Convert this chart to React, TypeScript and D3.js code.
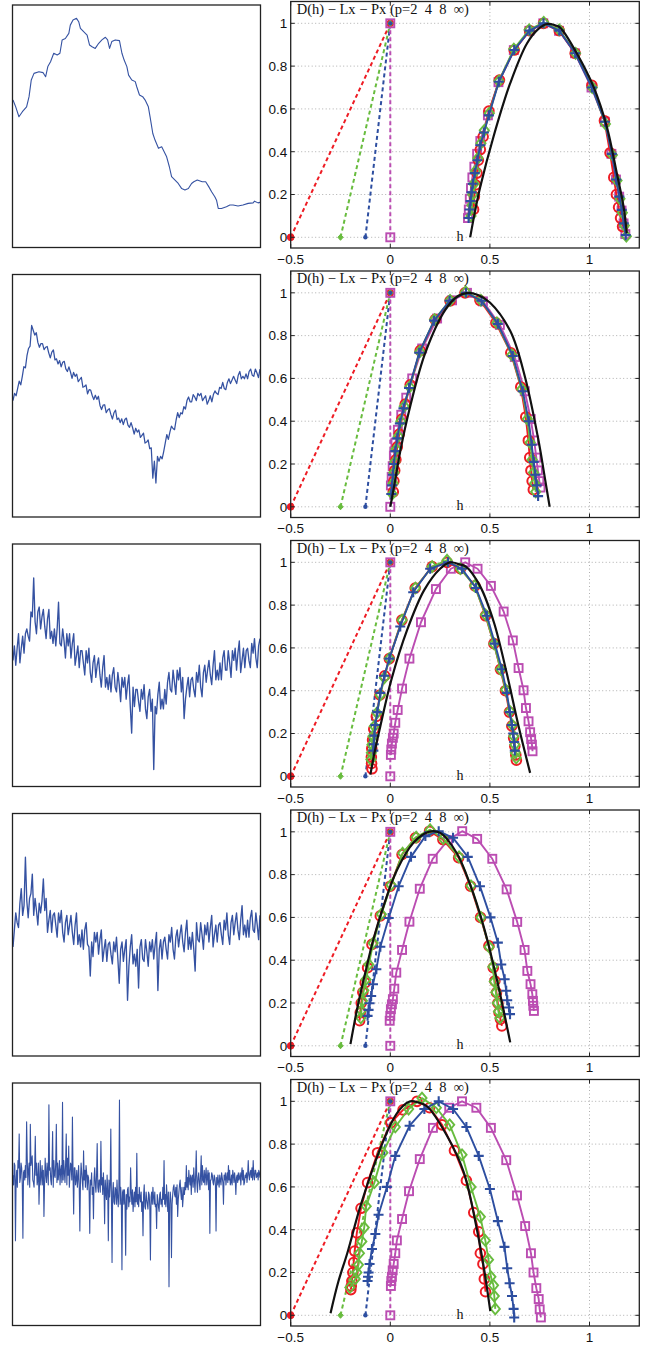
import React from "react";
import * as d3 from "d3";

// ---------------- DATA ----------------
const rowCount = 5;
const hTicks = [-0.5, 0, 0.5, 1];
const dTicks = [0, 0.2, 0.4, 0.6, 0.8, 1];
const titleText = "D(h) \u2212 Lx \u2212 Px (p=2  4  8  \u221e)";
const dashStartH = [-0.5, -0.25, -0.125, 0]; // p = 2, 4, 8, inf

// Row 1 signal (time 0..1000, level 0..100)
const sig1Time = [0, 11, 24, 38, 55, 65, 74, 85, 105, 122, 132, 141, 152, 165, 179, 190, 199, 212, 226, 232, 243, 257, 266, 273, 286, 300, 310, 320, 333, 347, 360, 374, 383, 391, 400, 414, 431, 441, 450, 461, 468, 481, 495, 501, 512, 525, 535, 548, 555, 566, 575, 589, 602, 612, 622, 633, 642, 656, 669, 683, 696, 710, 723, 732, 746, 766, 780, 793, 804, 817, 824, 831, 844, 864, 878, 891, 911, 931, 952, 972, 978, 992, 1000];
const sig1Value = [60.8, 58.0, 53.9, 56.0, 58.0, 62.2, 69.1, 71.8, 72.5, 72.1, 70.4, 74.6, 76.6, 80.1, 79.4, 80.1, 85.6, 86.2, 88.3, 91.7, 93.8, 94.5, 93.1, 90.4, 89.0, 87.6, 83.5, 82.8, 82.1, 84.2, 85.6, 86.7, 85.6, 82.1, 84.9, 85.6, 85.3, 80.1, 77.3, 74.6, 71.1, 69.1, 68.4, 66.3, 62.9, 62.2, 60.8, 58.0, 53.9, 47.0, 44.3, 40.9, 41.5, 39.5, 37.4, 33.3, 29.2, 27.8, 26.4, 24.3, 23.7, 24.3, 26.4, 27.1, 27.8, 27.1, 27.1, 25.0, 23.0, 20.9, 19.5, 16.1, 16.1, 16.8, 17.5, 17.5, 17.1, 17.5, 18.2, 18.4, 19.1, 18.4, 18.6];

const sig2Value = [
  48, 51, 50, 53, 56, 54.5, 58, 62, 61.5, 66.5,
  69.5, 70.5, 79, 77, 75, 76, 72, 70, 71.5, 71.5,
  69, 70, 70.3, 67.7, 65.6, 68, 68.9, 64.8, 65.2, 63.1,
  64.5, 61.9, 63.8, 64.2, 61.1, 60, 61.9, 59.8, 57.2, 59.6,
  58, 58.9, 55.8, 56.7, 57.6, 53.5, 53.8, 54.5, 50.8, 52.5,
  52.3, 50.1, 48.4, 50.2, 48.5, 49.8, 46, 44.3, 46.1, 46.3,
  43, 44.1, 44.7, 42.3, 40.4, 43, 44.1, 40.2, 40.8, 38.9,
  40.5, 38.1, 40.2, 40.8, 37.9, 37, 38.9, 36.8, 34.2, 36.6,
  35, 35.9, 32.8, 33.7, 34.6, 30.5, 30.9, 31.8, 28.2, 28.5,
  16, 23, 14, 25, 23, 25, 24, 27, 30.5, 34,
  32, 35, 37.5, 36.5, 36, 40, 43, 41, 43, 42.5,
  45.5, 44.5, 48, 49.5, 47.5, 47.5, 50.5, 49.5, 48, 51,
  50, 51, 48, 49, 50, 46.5, 48, 50, 47.5, 50.5,
  52, 51, 50.5, 53.5, 53, 55.5, 53, 52.5, 55.5, 57,
  55, 56.5, 58, 56.5, 55, 58.5, 60, 57, 58, 57,
  59, 57, 60, 61, 58.5, 58, 61, 59.5, 57.5, 61];

const sig3Value = [
  52, 58, 50, 57, 63, 51, 57, 62, 55, 63,
  65, 62, 60, 72, 70, 86, 68, 63, 72, 74,
  65, 70, 73, 66, 61, 69, 73, 61, 64, 59,
  65, 58, 65, 76, 59, 58, 65, 60, 53, 63,
  58, 63, 53, 59, 63, 50, 54, 58, 49, 56,
  56, 51, 46, 56, 51, 57, 47, 43, 51, 54,
  45, 50, 53, 46, 41, 49, 54, 41, 45, 40,
  46, 39, 46, 49, 41, 39, 47, 42, 35, 45,
  41, 45, 36, 42, 46, 33, 22, 41, 33, 40,
  40, 35, 31, 40, 36, 42, 32, 28, 37, 40,
  31, 36, 7, 33, 30, 38, 43, 32, 36, 32,
  40, 34, 43, 47, 40, 39, 48, 43, 38, 48,
  44, 49, 39, 45, 28, 36, 41, 45, 37, 44,
  45, 40, 37, 47, 43, 50, 41, 37, 47, 50,
  43, 48, 52, 46, 42, 50, 56, 44, 48, 44,
  51, 44, 53, 56, 48, 48, 56, 51, 45, 56,
  52, 57, 48, 55, 60, 47, 52, 57, 49, 56,
  57, 52, 49, 59, 55, 61, 53, 49, 58, 61];

const sig4Value = [
  45, 52, 59, 55, 53, 63, 69, 58, 62, 82,
  64, 57, 65, 67, 75, 58, 65, 60, 54, 63,
  59, 64, 73, 60, 65, 51, 56, 60, 51, 58,
  59, 54, 49, 59, 55, 60, 51, 47, 55, 58,
  50, 54, 58, 51, 46, 54, 59, 46, 50, 45,
  52, 44, 52, 55, 46, 45, 33, 47, 41, 51,
  47, 51, 42, 48, 52, 39, 44, 48, 39, 46,
  47, 42, 38, 47, 43, 49, 40, 30, 44, 47,
  39, 44, 48, 23, 37, 45, 50, 38, 42, 37,
  44, 28, 45, 48, 40, 39, 48, 43, 37, 47,
  43, 48, 40, 46, 51, 27, 44, 48, 40, 47,
  49, 44, 40, 50, 47, 53, 44, 40, 49, 52,
  45, 50, 54, 47, 43, 51, 56, 44, 49, 44,
  51, 44, 35, 55, 48, 47, 55, 50, 44, 54,
  50, 55, 47, 53, 58, 45, 50, 54, 47, 54,
  55, 50, 46, 56, 52, 59, 50, 46, 55, 58,
  50, 55, 59, 52, 48, 56, 62, 50, 54, 49,
  56, 49, 57, 60, 52, 51, 59, 54, 48, 58];

const sig5Value = [
  62, 58, 67, 66, 35, 60, 64, 57, 68, 65, 79, 59, 61, 67, 65, 58, 36, 63, 64, 60,
  66, 61, 84, 69, 58, 64, 67, 57, 83, 66, 68, 70, 60, 59, 57, 65, 78, 62, 67, 58,
  60, 67, 50, 60, 68, 58, 62, 66, 58, 64, 45, 59, 69, 62, 59, 67, 63, 58, 91, 64,
  65, 60, 58, 66, 80, 57, 68, 62, 61, 67, 83, 59, 67, 60, 63, 68, 58, 64, 66, 59,
  92, 60, 68, 63, 59, 67, 79, 58, 69, 62, 74, 57, 62, 67, 66, 60, 86, 62, 46, 65,
  65, 58, 60, 64, 57, 61, 66, 57, 39, 60, 67, 63, 59, 56, 72, 60, 64, 57, 66, 63,
  56, 62, 61, 55, 38, 60, 58, 63, 54, 57, 44, 61, 65, 58, 55, 62, 75, 57, 55, 60,
  60, 55, 76, 58, 61, 54, 63, 57, 42, 60, 55, 52, 62, 56, 35, 60, 53, 58, 81, 52,
  26, 55, 59, 51, 50, 57, 56, 50, 60, 53, 49, 56, 93, 50, 57, 52, 23, 55, 56, 50,
  56, 50, 29, 54, 48, 56, 57, 49, 53, 51, 65, 55, 50, 56, 47, 52, 55, 49, 57, 51,
  71, 50, 54, 49, 57, 53, 51, 55, 47, 51, 37, 54, 58, 49, 48, 55, 52, 50, 48, 55,
  54, 49, 27, 53, 55, 50, 57, 53, 50, 55, 49, 50, 40, 54, 52, 49, 47, 54, 55, 50,
  52, 49, 57, 52, 68, 50, 54, 49, 58, 53, 47, 55, 16, 50, 55, 52, 28, 50, 54, 57,
  58, 54, 53, 57, 50, 58, 45, 52, 55, 58, 60, 55, 52, 57, 49, 53, 57, 54, 59, 56,
  66, 57, 61, 56, 64, 60, 58, 62, 54, 61, 62, 57, 65, 60, 55, 62, 72, 59, 55, 61,
  63, 59, 56, 62, 70, 58, 66, 60, 59, 64, 58, 62, 65, 58, 61, 64, 56, 63, 38, 60,
  60, 63, 62, 59, 58, 62, 61, 58, 39, 61, 58, 62, 59, 57, 62, 60, 58, 63, 61, 59,
  50, 62, 60, 63, 58, 61, 63, 59, 66, 60, 64, 58, 59, 62, 58, 64, 62, 59, 63, 60,
  54, 61, 62, 59, 63, 60, 61, 63, 58, 62, 65, 60, 64, 58, 59, 62, 61, 63, 59, 62,
  68, 62, 60, 63, 64, 61, 65, 60, 68, 62, 60, 64, 64, 61, 62, 63, 60, 64, 63, 61];

// Spectra [h, D(h)] for p = 2 (red), 4 (green), 8 (blue), inf (magenta), and reference (black)
const spec1P2 = [[0.418,0.13],[0.422,0.19],[0.428,0.245],[0.435,0.30],[0.442,0.36],[0.452,0.41],[0.466,0.47],[0.495,0.59],[0.548,0.735],[0.622,0.875],[0.699,0.966],[0.769,1.0],[0.848,0.966],[0.928,0.86],[1.012,0.71],[1.075,0.545],[1.103,0.395],[1.122,0.28],[1.135,0.2],[1.146,0.14],[1.156,0.09],[1.166,0.05]];
const spec1P4 = [[0.405,0.10],[0.41,0.15],[0.414,0.2],[0.42,0.25],[0.428,0.31],[0.44,0.37],[0.455,0.44],[0.472,0.5],[0.497,0.58],[0.545,0.73],[0.62,0.88],[0.697,0.97],[0.77,1.005],[0.848,0.97],[0.93,0.86],[1.014,0.7],[1.08,0.53],[1.115,0.385],[1.138,0.265],[1.153,0.18],[1.165,0.115],[1.175,0.055],[1.185,0.005]];
const spec1P8 = [[0.393,0.09],[0.398,0.13],[0.403,0.17],[0.408,0.21],[0.414,0.25],[0.424,0.30],[0.437,0.36],[0.452,0.43],[0.47,0.49],[0.495,0.57],[0.545,0.727],[0.622,0.875],[0.699,0.966],[0.769,1.0],[0.848,0.966],[0.928,0.86],[1.012,0.70],[1.078,0.54],[1.112,0.39],[1.134,0.27],[1.15,0.19],[1.162,0.128],[1.172,0.065],[1.182,0.01]];
const spec1PInf = [[0.39,0.09],[0.394,0.13],[0.399,0.18],[0.405,0.23],[0.412,0.28],[0.422,0.33],[0.436,0.39],[0.452,0.45],[0.49,0.57],[0.543,0.725],[0.62,0.875],[0.698,0.965],[0.768,1.0],[0.847,0.965],[0.927,0.86],[1.01,0.7],[1.077,0.54],[1.11,0.39],[1.133,0.27],[1.149,0.19],[1.161,0.125],[1.171,0.065],[1.18,0.015]];
const spec1Ref = [[0.401,0],[0.425,0.12],[0.452,0.237],[0.518,0.47],[0.602,0.72],[0.686,0.906],[0.745,0.975],[0.786,0.997],[0.83,0.99],[0.853,0.98],[0.936,0.86],[1.02,0.704],[1.087,0.517],[1.137,0.3],[1.171,0.143],[1.187,0.019]];

const spec2P2 = [[0.015,0.07],[0.018,0.12],[0.022,0.17],[0.028,0.22],[0.035,0.28],[0.045,0.34],[0.058,0.41],[0.075,0.48],[0.1,0.57],[0.15,0.73],[0.225,0.875],[0.3,0.962],[0.375,1.0],[0.45,0.965],[0.53,0.86],[0.605,0.72],[0.655,0.56],[0.68,0.42],[0.693,0.31],[0.7,0.23],[0.706,0.17],[0.712,0.12],[0.718,0.08]];
const spec2P4 = [[0.01,0.06],[0.014,0.11],[0.018,0.16],[0.023,0.21],[0.03,0.27],[0.04,0.33],[0.053,0.4],[0.07,0.47],[0.097,0.56],[0.148,0.725],[0.222,0.875],[0.3,0.965],[0.378,1.005],[0.455,0.965],[0.535,0.86],[0.61,0.71],[0.66,0.55],[0.688,0.41],[0.702,0.3],[0.712,0.22],[0.719,0.16],[0.725,0.11],[0.73,0.07]];
const spec2P8 = [[0.005,0.06],[0.009,0.1],[0.013,0.15],[0.018,0.2],[0.025,0.26],[0.035,0.32],[0.048,0.39],[0.066,0.46],[0.094,0.555],[0.145,0.72],[0.22,0.87],[0.298,0.963],[0.38,1.0],[0.458,0.963],[0.54,0.855],[0.615,0.705],[0.665,0.54],[0.695,0.4],[0.71,0.29],[0.72,0.21],[0.728,0.15],[0.735,0.1],[0.742,0.05]];
const spec2PInf = [[0.003,0.1],[0.007,0.14],[0.012,0.19],[0.018,0.24],[0.026,0.3],[0.038,0.36],[0.055,0.43],[0.08,0.51],[0.11,0.6],[0.16,0.74],[0.235,0.88],[0.31,0.965],[0.385,1.0],[0.465,0.96],[0.55,0.85],[0.625,0.7],[0.675,0.54],[0.705,0.41],[0.722,0.31],[0.733,0.23],[0.741,0.17],[0.748,0.12],[0.754,0.09]];
const spec2Ref = [[0,0],[0.02,0.1],[0.05,0.26],[0.1,0.47],[0.176,0.72],[0.276,0.92],[0.34,0.985],[0.39,1.0],[0.44,0.99],[0.5,0.955],[0.603,0.82],[0.678,0.6],[0.744,0.31],[0.775,0.14],[0.8,0]];

const spec3P2 = [[-0.092,0.035],[-0.094,0.06],[-0.095,0.09],[-0.093,0.13],[-0.089,0.17],[-0.083,0.22],[-0.07,0.28],[-0.052,0.38],[-0.028,0.47],[-0.005,0.55],[0.058,0.73],[0.125,0.88],[0.21,0.98],[0.285,1.0],[0.352,0.97],[0.425,0.89],[0.478,0.75],[0.52,0.62],[0.553,0.5],[0.578,0.4],[0.598,0.3],[0.61,0.235],[0.619,0.18],[0.625,0.14],[0.63,0.1],[0.633,0.075]];
const spec3P4 = [[-0.097,0.078],[-0.095,0.11],[-0.092,0.148],[-0.087,0.187],[-0.08,0.234],[-0.067,0.296],[-0.05,0.38],[-0.03,0.46],[-0.005,0.55],[0.059,0.73],[0.126,0.88],[0.21,0.98],[0.285,1.01],[0.352,0.97],[0.423,0.89],[0.478,0.755],[0.52,0.62],[0.554,0.5],[0.579,0.405],[0.6,0.304],[0.612,0.24],[0.62,0.187],[0.625,0.148],[0.628,0.11],[0.632,0.086]];
const spec3P8 = [[-0.085,0.12],[-0.083,0.15],[-0.08,0.19],[-0.075,0.24],[-0.065,0.3],[-0.05,0.39],[-0.03,0.47],[-0.005,0.55],[0.05,0.70],[0.115,0.86],[0.2,0.97],[0.29,1.0],[0.36,0.97],[0.43,0.88],[0.485,0.75],[0.525,0.62],[0.56,0.5],[0.585,0.39],[0.6,0.3],[0.61,0.24],[0.617,0.2],[0.622,0.16],[0.625,0.12]];
const spec3PInf = [[0.003,0.1],[0.005,0.125],[0.008,0.153],[0.013,0.18],[0.017,0.2],[0.025,0.25],[0.037,0.31],[0.059,0.41],[0.096,0.55],[0.154,0.72],[0.229,0.875],[0.304,0.97],[0.376,1.0],[0.438,0.97],[0.505,0.89],[0.569,0.77],[0.615,0.635],[0.644,0.506],[0.669,0.402],[0.681,0.319],[0.694,0.257],[0.702,0.206],[0.707,0.174],[0.711,0.148],[0.714,0.117]];
const spec3Ref = [[-0.1,0.008],[-0.075,0.13],[-0.05,0.234],[0.005,0.45],[0.085,0.685],[0.17,0.87],[0.25,0.97],[0.3,1.0],[0.35,0.99],[0.38,0.98],[0.45,0.89],[0.52,0.72],[0.585,0.48],[0.644,0.234],[0.702,0.016]];

const spec4P2 = [[-0.154,0.117],[-0.151,0.155],[-0.146,0.2],[-0.138,0.25],[-0.126,0.295],[-0.114,0.365],[-0.092,0.474],[-0.05,0.607],[0,0.746],[0.059,0.894],[0.126,0.972],[0.197,1.003],[0.264,0.964],[0.343,0.879],[0.403,0.746],[0.453,0.6],[0.495,0.467],[0.517,0.365],[0.525,0.303],[0.533,0.249],[0.54,0.199],[0.546,0.156],[0.553,0.124],[0.56,0.093]];
const spec4P4 = [[-0.148,0.13],[-0.145,0.165],[-0.14,0.21],[-0.133,0.26],[-0.122,0.31],[-0.108,0.38],[-0.086,0.48],[-0.045,0.615],[0.004,0.752],[0.062,0.9],[0.13,0.975],[0.2,1.01],[0.266,0.968],[0.345,0.883],[0.405,0.748],[0.455,0.6],[0.496,0.462],[0.515,0.37],[0.522,0.3],[0.53,0.25],[0.537,0.2],[0.543,0.16],[0.55,0.13]];
const spec4P8 = [[-0.114,0.14],[-0.109,0.168],[-0.104,0.199],[-0.096,0.233],[-0.087,0.288],[-0.07,0.358],[-0.05,0.463],[-0.008,0.597],[0.042,0.746],[0.104,0.883],[0.176,0.98],[0.243,1.003],[0.315,0.972],[0.389,0.883],[0.45,0.746],[0.503,0.6],[0.54,0.482],[0.557,0.38],[0.574,0.311],[0.582,0.257],[0.587,0.213],[0.596,0.179],[0.601,0.148]];
const spec4PInf = [[-0.003,0.117],[0,0.14],[0.003,0.171],[0.008,0.194],[0.013,0.218],[0.02,0.267],[0.03,0.342],[0.059,0.448],[0.096,0.58],[0.148,0.734],[0.213,0.874],[0.289,0.961],[0.361,1.003],[0.436,0.967],[0.512,0.874],[0.584,0.731],[0.637,0.579],[0.674,0.448],[0.688,0.35],[0.704,0.288],[0.713,0.241],[0.716,0.21],[0.718,0.187],[0.721,0.163]];
const spec4Ref = [[-0.2,0.008],[-0.167,0.17],[-0.126,0.34],[-0.084,0.5],[-0.033,0.655],[0.033,0.82],[0.117,0.95],[0.192,1.0],[0.251,0.995],[0.334,0.9],[0.401,0.753],[0.468,0.56],[0.535,0.31],[0.602,0.016]];

const spec5P2 = [[-0.198,0.12],[-0.196,0.137],[-0.193,0.16],[-0.188,0.2],[-0.184,0.246],[-0.179,0.3],[-0.168,0.385],[-0.147,0.5],[-0.114,0.62],[-0.064,0.76],[0.003,0.9],[0.064,0.96],[0.134,1.0],[0.197,0.97],[0.26,0.89],[0.322,0.77],[0.382,0.63],[0.419,0.48],[0.444,0.39],[0.452,0.29],[0.465,0.24],[0.472,0.17],[0.478,0.11]];
const spec5P4 = [[-0.203,0.13],[-0.176,0.17],[-0.168,0.2],[-0.16,0.236],[-0.155,0.29],[-0.143,0.345],[-0.131,0.41],[-0.121,0.51],[-0.08,0.62],[-0.037,0.76],[0.025,0.88],[0.092,0.964],[0.159,1.015],[0.231,0.97],[0.298,0.89],[0.36,0.75],[0.405,0.6],[0.452,0.46],[0.477,0.35],[0.493,0.26],[0.505,0.18],[0.518,0.14],[0.522,0.09],[0.527,0.03]];
const spec5P8 = [[-0.114,0.16],[-0.112,0.18],[-0.109,0.2],[-0.104,0.24],[-0.092,0.31],[-0.075,0.38],[-0.059,0.47],[-0.017,0.6],[0.025,0.745],[0.097,0.886],[0.171,0.964],[0.243,1.0],[0.315,0.964],[0.382,0.88],[0.444,0.745],[0.5,0.59],[0.54,0.44],[0.573,0.32],[0.587,0.22],[0.599,0.15],[0.611,0.09],[0.619,0.03],[0.622,-0.01]];
const spec5PInf = [[0.003,0.137],[0.005,0.16],[0.008,0.18],[0.012,0.21],[0.017,0.24],[0.025,0.29],[0.033,0.35],[0.059,0.45],[0.094,0.58],[0.148,0.73],[0.214,0.876],[0.296,0.97],[0.36,1.0],[0.432,0.97],[0.505,0.876],[0.582,0.725],[0.636,0.56],[0.677,0.417],[0.706,0.29],[0.719,0.2],[0.733,0.127],[0.745,0.076],[0.75,0.028],[0.756,-0.01]];
const spec5Ref = [[-0.3,0.01],[-0.26,0.16],[-0.216,0.29],[-0.15,0.51],[-0.05,0.78],[0.017,0.92],[0.06,0.975],[0.1,1.0],[0.14,0.995],[0.184,0.977],[0.284,0.84],[0.368,0.67],[0.435,0.4],[0.47,0.22],[0.502,0.02]];

const signals = [null, sig2Value, sig3Value, sig4Value, sig5Value];
const spectra = [
  [spec1P2, spec1P4, spec1P8, spec1PInf, spec1Ref],
  [spec2P2, spec2P4, spec2P8, spec2PInf, spec2Ref],
  [spec3P2, spec3P4, spec3P8, spec3PInf, spec3Ref],
  [spec4P2, spec4P4, spec4P8, spec4PInf, spec4Ref],
  [spec5P2, spec5P4, spec5P8, spec5PInf, spec5Ref],
];

// ---------------- STYLE / LAYOUT ----------------
const ROW_STEP = 269.5;
const LP = { x0: 12.5, x1: 260.5, top: 5, bottom: 247.5 };
const RP = { x0: 290.7, x1: 639.3, top: 1.5, bottom: 248 };
const C_RED = "#ee1c24";
const C_GREEN = "#68bc3e";
const C_BLUE = "#2d4ea0";
const C_MAG = "#bb4db2";
const C_SIG = "#3552a2";
const AXIS = "#222";
const SANS = "Liberation Sans, Arial, Helvetica, sans-serif";
const SERIF = "Liberation Serif, Times New Roman, serif";
const sigStroke = [1.1, 1.25, 1.35, 1.35, 1.1];

function Marker({ kind, x, y, color, small }: any) {
  if (kind === 0) {
    return small ? (
      <circle cx={x} cy={y} r={3.4} fill={color} stroke={color} strokeWidth={1} />
    ) : (
      <circle cx={x} cy={y} r={4.8} fill="none" stroke={color} strokeWidth={2} />
    );
  }
  if (kind === 1) {
    const s = small ? 3 : 5.4;
    const w = small ? 2.6 : 4.6;
    return (
      <path
        d={`M${x},${y - s}L${x + w},${y}L${x},${y + s}L${x - w},${y}Z`}
        fill={small ? color : "none"}
        stroke={color}
        strokeWidth={small ? 1 : 1.9}
      />
    );
  }
  if (kind === 2) {
    if (small) return <circle cx={x} cy={y} r={2.2} fill={color} />;
    const s = 5;
    return (
      <path d={`M${x - s},${y}H${x + s}M${x},${y - s}V${y + s}`} stroke={color} strokeWidth={2.1} fill="none" />
    );
  }
  const s = 4;
  return <rect x={x - s} y={y - s} width={2 * s} height={2 * s} fill="none" stroke={color} strokeWidth={1.9} />;
}

function SignalPanel({ row }: { row: number }) {
  const oy = row * ROW_STEP;
  const yS = d3.scaleLinear().domain([0, 100]).range([oy + LP.bottom, oy + LP.top]);
  let d: string;
  if (row === 0) {
    const xS = d3.scaleLinear().domain([0, 1000]).range([LP.x0 + 0.5, LP.x1 - 0.5]);
    const pts = sig1Time.map((t, i) => [t, sig1Value[i]] as [number, number]);
    d = d3.line<[number, number]>().x((p) => xS(p[0])).y((p) => yS(p[1]))(pts) || "";
  } else {
    const vals = signals[row] as number[];
    const xS = d3.scaleLinear().domain([0, vals.length - 1]).range([LP.x0 + 0.5, LP.x1 - 0.5]);
    d = d3.line<number>().x((_, i) => xS(i)).y((v) => yS(v))(vals) || "";
  }
  return (
    <g>
      <path d={d} fill="none" stroke={C_SIG} strokeWidth={sigStroke[row]} strokeLinejoin="round" />
      <rect x={LP.x0} y={oy + LP.top} width={LP.x1 - LP.x0} height={LP.bottom - LP.top} fill="none" stroke={AXIS} strokeWidth={1.3} />
    </g>
  );
}

function SpectrumPanel({ row }: { row: number }) {
  const oy = row * ROW_STEP;
  const xS = d3.scaleLinear().domain([-0.5, 1.25]).range([RP.x0, RP.x1]);
  const yS = d3.scaleLinear().domain([-0.05, 1.102]).range([oy + RP.bottom, oy + RP.top]);
  const colors = [C_RED, C_GREEN, C_BLUE, C_MAG];
  const line = d3.line<number[]>().x((p) => xS(p[0])).y((p) => yS(p[1]));
  const smooth = d3.line<number[]>().x((p) => xS(p[0])).y((p) => yS(p[1])).curve(d3.curveCatmullRom.alpha(0.5));
  const specs = spectra[row];
  const order = [3, 0, 1, 2];
  const top = oy + RP.top;
  const bot = oy + RP.bottom;
  const fmt = (v: number) => (v < 0 ? "\u2212" + String(-v) : String(v));
  return (
    <g>
      {dTicks.map((t) => (
        <line key={"gy" + t} x1={RP.x0} x2={RP.x1} y1={yS(t)} y2={yS(t)} stroke="#9a9a9a" strokeWidth={0.8} strokeDasharray="1,2.5" />
      ))}
      {hTicks.filter((t) => t > -0.5).map((t) => (
        <line key={"gx" + t} x1={xS(t)} x2={xS(t)} y1={top} y2={bot} stroke="#9a9a9a" strokeWidth={0.8} strokeDasharray="1,2.5" />
      ))}
      {dashStartH.map((h0, k) => (
        <path key={"dl" + k} d={line([[h0, 0], [0, 1]]) || ""} fill="none" stroke={colors[k]} strokeWidth={2} strokeDasharray="4,3" />
      ))}
      {dashStartH.map((h0, k) => (
        <g key={"dm" + k}>
          <Marker kind={k} x={xS(h0)} y={yS(0)} color={colors[k]} small={k < 3} />
          <Marker kind={k} x={xS(0)} y={yS(1)} color={colors[k]} small={k < 3} />
        </g>
      ))}
      {order.map((k) => (
        <g key={"s" + k}>
          <path d={line(specs[k]) || ""} fill="none" stroke={colors[k]} strokeWidth={1.9} strokeLinejoin="round" />
          {specs[k].map((p, i) => (
            <Marker key={i} kind={k} x={xS(p[0])} y={yS(p[1])} color={colors[k]} />
          ))}
        </g>
      ))}
      <path d={smooth(specs[4]) || ""} fill="none" stroke="#111" strokeWidth={2.2} />
      <rect x={RP.x0} y={top} width={RP.x1 - RP.x0} height={RP.bottom - RP.top} fill="none" stroke={AXIS} strokeWidth={1.3} />
      {hTicks.map((t) => (
        <g key={"tx" + t}>
          <line x1={xS(t)} x2={xS(t)} y1={bot} y2={bot - 4} stroke={AXIS} strokeWidth={1} />
          <line x1={xS(t)} x2={xS(t)} y1={top} y2={top + 4} stroke={AXIS} strokeWidth={1} />
          <text x={xS(t)} y={bot + 15.5} textAnchor="middle" fontFamily={SANS} fontSize={13.5} fill="#111">
            {fmt(t)}
          </text>
        </g>
      ))}
      {dTicks.map((t) => (
        <g key={"ty" + t}>
          <line x1={RP.x0} x2={RP.x0 + 4} y1={yS(t)} y2={yS(t)} stroke={AXIS} strokeWidth={1} />
          <line x1={RP.x1} x2={RP.x1 - 4} y1={yS(t)} y2={yS(t)} stroke={AXIS} strokeWidth={1} />
          <text x={RP.x0 - 3.5} y={yS(t) + 4.8} textAnchor="end" fontFamily={SANS} fontSize={13.5} fill="#111">
            {String(t)}
          </text>
        </g>
      ))}
      <text x={RP.x0 + 6} y={top + 12} fontFamily={SERIF} fontSize={14.5} fill="#111" style={{ whiteSpace: "pre" }}>
        {titleText}
      </text>
      <text x={xS(0.35)} y={yS(0) + 3.5} textAnchor="middle" fontFamily={SERIF} fontSize={14} fill="#111">
        h
      </text>
    </g>
  );
}

export default function App() {
  const rows = d3.range(rowCount);
  return (
    <svg width={656} height={1347} style={{ position: "absolute", left: 0, top: 0, background: "#fff" }}>
      <rect x={0} y={0} width={656} height={1347} fill="#fff" />
      {rows.map((r) => (
        <g key={r}>
          <SignalPanel row={r} />
          <SpectrumPanel row={r} />
        </g>
      ))}
    </svg>
  );
}
